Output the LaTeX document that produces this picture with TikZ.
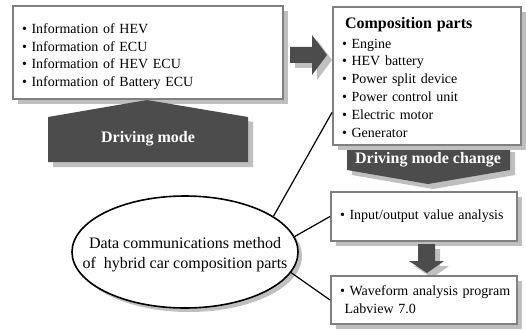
\documentclass[tikz,border=0pt]{standalone}
\usepackage{fontspec}
\setmainfont{Liberation Serif}
\usetikzlibrary{shapes.geometric, shadows}

\definecolor{framegray}{gray}{0.5}
\definecolor{darkfill}{gray}{0.3}
\definecolor{shadegray}{gray}{0.75}

\newcommand{\itm}{\textbullet\ }

\begin{document}
\begin{tikzpicture}[x=1pt, y=-1pt,
  box/.style={draw=framegray, line width=2pt, fill=white, anchor=north west,
    align=left, inner xsep=9pt, inner ysep=0pt,
    font=\fontsize{14pt}{17.8pt}\selectfont,
    drop shadow={shadow xshift=5pt, shadow yshift=-5pt, fill=shadegray, opacity=1}},
  blockarrow/.style={fill=darkfill},
  arrowshade/.style={fill=shadegray, shift={(5,5)}},
  whitelabel/.style={text=white, font=\bfseries\fontsize{16pt}{20pt}\selectfont},
  link/.style={line width=1.2pt, black}
]
  \useasboundingbox (0,0) rectangle (526,331);

  % ======= upper left: information =======
  \node[box, minimum width=270pt, minimum height=93pt, text width=252pt, inner xsep=8pt]
    (info) at (12,5)
    {\rule{0pt}{18pt}\itm Information of HEV\\ \itm Information of ECU\\ \itm Information of HEV ECU\\ \itm Information of Battery ECU};

  % driving mode block (points up)
  \fill[arrowshade] (48,117) -- (147,100) -- (248,117) -- (248,162) -- (48,162) -- cycle;
  \fill[blockarrow] (48,117) -- (147,100) -- (248,117) -- (248,162) -- (48,162) -- cycle;
  \node[whitelabel] (drv) at (148,139) {Driving mode};

  % arrow to the right
  \fill[arrowshade] (290,47) -- (312,47) -- (312,35) -- (327,55) -- (312,75) -- (312,63) -- (290,63) -- cycle;
  \fill[blockarrow] (290,47) -- (312,47) -- (312,35) -- (327,55) -- (312,75) -- (312,63) -- (290,63) -- cycle;

  % ======= upper right: composition parts =======
  \fill[arrowshade] (347,147) -- (510,147) -- (510,170) -- (428,184) -- (347,170) -- cycle;
  \fill[blockarrow] (347,147) -- (510,147) -- (510,170) -- (428,184) -- (347,170) -- cycle;
  \node[whitelabel] (chg) at (428,160) {Driving mode change};

  \node[box, minimum width=188pt, minimum height=138pt, text width=170pt]
    (comp) at (332,6)
    {\rule{0pt}{14pt}{\bfseries\fontsize{16pt}{17.8pt}\selectfont\hspace{3pt}Composition parts}\\[1.5pt]
     \itm Engine\\ \itm HEV battery\\ \itm Power split device\\
     \itm Power control unit\\ \itm Electric motor\\ \itm Generator};

  % ======= lower right: analysis =======
  \node[box, minimum width=186pt, minimum height=49pt, text width=168pt]
    (io) at (330,191) {\itm Input/output value analysis};

  \fill[arrowshade] (418,244) -- (435,244) -- (435,261) -- (444,261) -- (427,273) -- (409,261) -- (418,261) -- cycle;
  \fill[blockarrow] (418,244) -- (435,244) -- (435,261) -- (444,261) -- (427,273) -- (409,261) -- (418,261) -- cycle;

  \node[box, minimum width=186pt, minimum height=48pt, text width=168pt]
    (wave) at (330,275) {\mbox{\itm Waveform analysis program}\\ \ Labview 7.0};

  % ======= ellipse and links =======
  \node[ellipse, draw, line width=1.6pt, fill=white, minimum width=226pt, minimum height=112pt,
    inner sep=0pt, drop shadow={shadow xshift=4pt, shadow yshift=-4pt, fill=shadegray, opacity=1}]
    (ell) at (185,252) {};
  \node[align=center, font=\fontsize{16pt}{20pt}\selectfont] (elltext) at (185,255)
    {Data communications method\\of\ \ hybrid car composition parts};

  \draw[link] (ell.22) -- (comp.201);
  \draw[link] (ell.8) -- (io.west);
  \draw[link] (ell.-11) -- (wave.west);

\end{tikzpicture}
\end{document}
